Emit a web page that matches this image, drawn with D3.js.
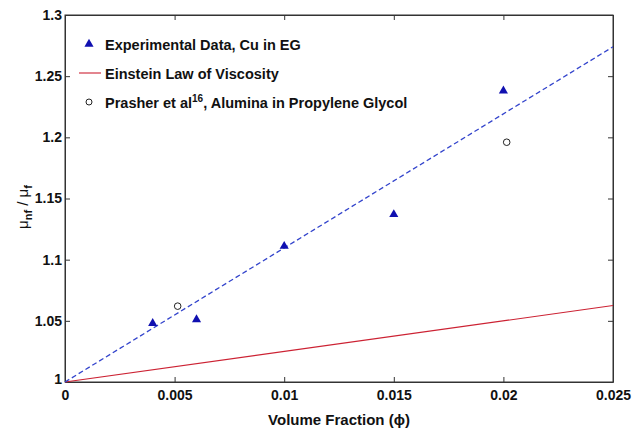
<!DOCTYPE html>
<html><head><meta charset="utf-8">
<script src="https://cdn.jsdelivr.net/npm/d3@7"></script>
<style>
html,body{margin:0;padding:0;background:#fff;}
text{font-family:"Liberation Sans",Arial,sans-serif;font-weight:bold;fill:#111;}
</style></head>
<body>
<svg id="c" width="634" height="430"></svg>
<script>
// Data
const expPhi = [0.004, 0.006, 0.010, 0.015, 0.020];
const expMu  = [1.048, 1.051, 1.111, 1.137, 1.238];
const prPhi  = [0.00514, 0.02015];
const prMu   = [1.062, 1.196];
const fitPhi = [0, 0.025];
const fitMu  = [1, 1.274];
const einPhi = [0, 0.025];
const einMu  = [1, 1.0625];
const xTicks = [0, 0.005, 0.01, 0.015, 0.02, 0.025];
const xTickLabels = ["0", "0.005", "0.01", "0.015", "0.02", "0.025"];
const yTicks = [1, 1.05, 1.1, 1.15, 1.2, 1.25, 1.3];
const yTickLabels = ["1", "1.05", "1.1", "1.15", "1.2", "1.25", "1.3"];

const svg = d3.select("#c");
const L = 65, R = 613, T = 15, B = 382;
const x = d3.scaleLinear().domain([0, 0.025]).range([L, R]);
const y = d3.scaleLinear().domain([1, 1.3]).range([B, T]);

// frame
svg.append("rect").attr("x", L).attr("y", T).attr("width", R - L).attr("height", B - T)
  .attr("fill", "none").attr("stroke", "#333").attr("stroke-width", 1);

// axes with inward ticks
const fmtX = (d, i) => xTickLabels[i];
const fmtY = (d, i) => yTickLabels[i];
const gx = svg.append("g").attr("transform", `translate(0,${B})`)
  .call(d3.axisBottom(x).tickValues(xTicks).tickFormat(fmtX).tickSizeInner(-5).tickSizeOuter(0).tickPadding(8));
const gxt = svg.append("g").attr("transform", `translate(0,${T})`)
  .call(d3.axisTop(x).tickValues(xTicks).tickFormat("").tickSizeInner(-5).tickSizeOuter(0));
const gy = svg.append("g").attr("transform", `translate(${L},0)`)
  .call(d3.axisLeft(y).tickValues(yTicks).tickFormat(fmtY).tickSizeInner(-5).tickSizeOuter(0).tickPadding(3));
const gyr = svg.append("g").attr("transform", `translate(${R},0)`)
  .call(d3.axisRight(y).tickValues(yTicks).tickFormat("").tickSizeInner(-5).tickSizeOuter(0));
[gx, gxt, gy, gyr].forEach(g => {
  g.select(".domain").attr("stroke", "#333");
  g.selectAll(".tick line").attr("stroke", "#333");
  g.selectAll("text").attr("font-size", 14).attr("font-family", "Liberation Sans, Arial, sans-serif").attr("font-weight", "bold").attr("fill", "#111");
});
gy.selectAll(".tick text").filter((d) => d === 1).attr("dy", "0.1em");

const line = d3.line().x(d => x(d[0])).y(d => y(d[1]));

// Einstein line
svg.append("path").datum(d3.zip(einPhi, einMu)).attr("d", line)
  .attr("fill", "none").attr("stroke", "#cc2233").attr("stroke-width", 1.1);
// dashed fit
svg.append("path").datum(d3.zip(fitPhi, fitMu)).attr("d", line)
  .attr("fill", "none").attr("stroke", "#3344cc").attr("stroke-width", 1.3).attr("stroke-dasharray", "5,3");

const tri = d3.symbol().type(d3.symbolTriangle).size(36);
svg.selectAll(".exp").data(d3.zip(expPhi, expMu)).enter().append("path")
  .attr("transform", d => `translate(${x(d[0])},${y(d[1])})`)
  .attr("d", tri).attr("fill", "#1010b0");
svg.selectAll(".pr").data(d3.zip(prPhi, prMu)).enter().append("circle")
  .attr("cx", d => x(d[0])).attr("cy", d => y(d[1])).attr("r", 3.3)
  .attr("fill", "none").attr("stroke", "#222").attr("stroke-width", 1);

// legend
const fs = 14.5;
const lg = svg.append("g");
lg.append("path").attr("transform", "translate(89,44)").attr("d", tri).attr("fill", "#1010b0");
lg.append("text").attr("x", 105).attr("y", 50).attr("font-size", fs).text("Experimental Data, Cu in EG");
lg.append("line").attr("x1", 79).attr("x2", 101).attr("y1", 73).attr("y2", 73).attr("stroke", "#cc2233").attr("stroke-width", 1.1);
lg.append("text").attr("x", 105).attr("y", 79).attr("font-size", fs).text("Einstein Law of Viscosity");
lg.append("circle").attr("cx", 89).attr("cy", 102).attr("r", 3).attr("fill", "none").attr("stroke", "#222");
const t3 = lg.append("text").attr("x", 105).attr("y", 108).attr("font-size", fs);
t3.append("tspan").text("Prasher et al");
t3.append("tspan").attr("font-size", 10).attr("dy", -6).text("16");
t3.append("tspan").attr("dy", 6).text(", Alumina in Propylene Glycol");

// x label
svg.append("text").attr("x", (L + R) / 2).attr("y", 425).attr("text-anchor", "middle").attr("font-size", 15)
  .text("Volume Fraction (ϕ)");
// y label
const yl = svg.append("text").attr("transform", "translate(28,207) rotate(-90)").attr("text-anchor", "middle").attr("font-size", 15);
yl.append("tspan").attr("font-weight", "normal").text("μ");
yl.append("tspan").attr("font-size", 11).attr("dy", 4).text("nf");
yl.append("tspan").attr("dy", -4).attr("font-weight", "normal").text(" / μ");
yl.append("tspan").attr("font-size", 11).attr("dy", 4).text("f");
</script>
</body></html>
